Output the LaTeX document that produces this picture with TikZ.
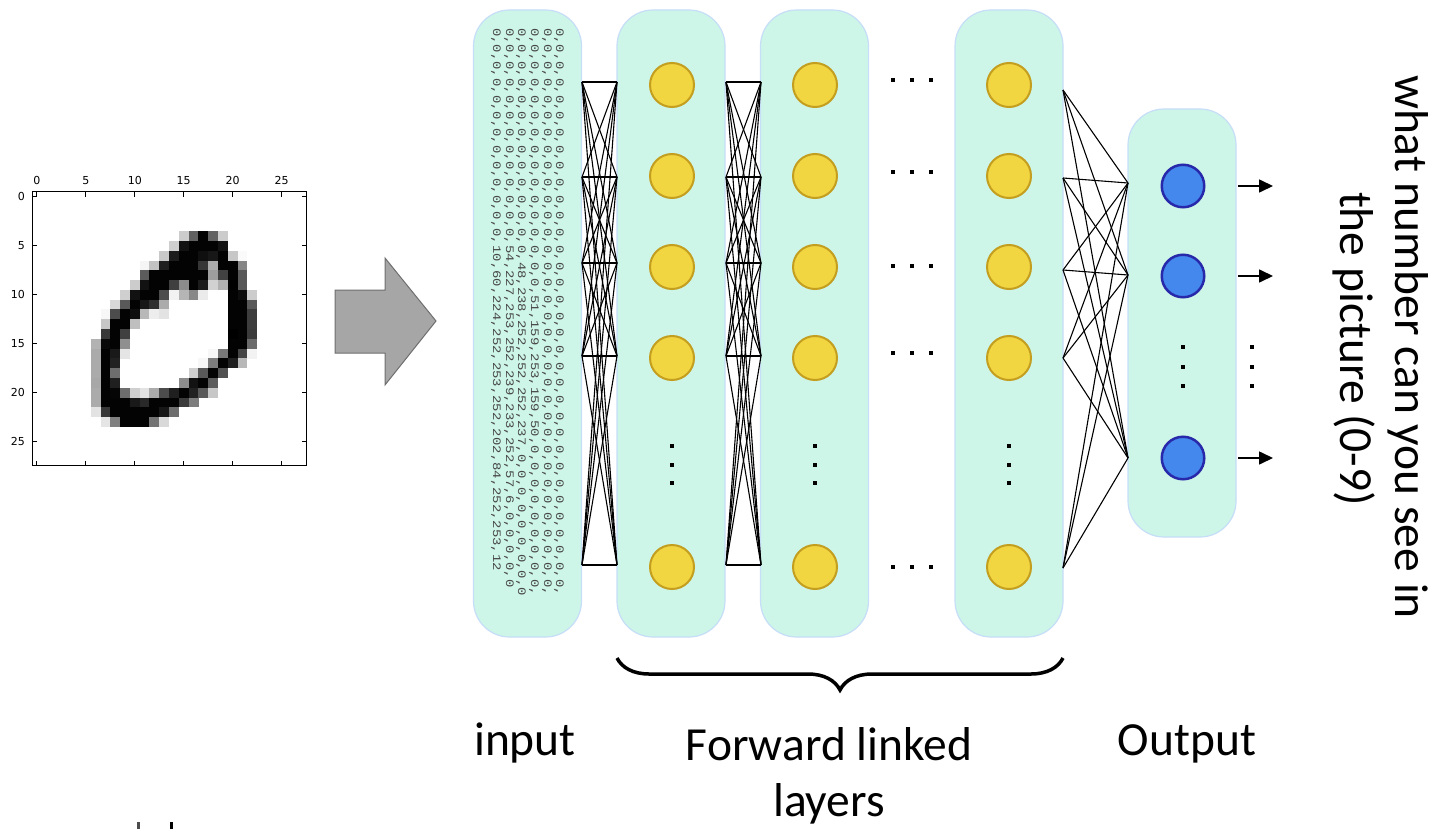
\documentclass[tikz,border=0pt]{standalone}
\usepackage{fontspec}
\setmainfont{Carlito}
\newfontfamily\tickfont{DejaVu Sans}
\newfontfamily\rawfont{Liberation Mono}
\usetikzlibrary{decorations.pathreplacing,arrows.meta}

\definecolor{layerfill}{RGB}{205,245,232}
\definecolor{layeredge}{RGB}{198,222,248}
\definecolor{hidfill}{RGB}{241,214,66}
\definecolor{hidedge}{RGB}{196,158,30}
\definecolor{outfill}{RGB}{68,136,238}
\definecolor{outedge}{RGB}{40,40,170}
\definecolor{blockgray}{RGB}{166,166,166}
\definecolor{blockedge}{RGB}{110,110,110}

% one row of the 28x28 digit: list of column/intensity pairs (0..255)
\newcommand\digitrow[2]{%
  \foreach \c/\v in {#2}{%
    \pgfmathtruncatemacro\pct{round(\v/2.55)}%
    \fill[black!\pct] ({32+\c*9.786},{192+#1*9.786}) rectangle ++(9.95,9.95);
  }%
}

\tikzset{
  layerbox/.style={rectangle, fill=layerfill, draw=layeredge, line width=1.2pt,
    rounded corners=36pt, minimum width=108pt, inner sep=0pt},
  hidden/.style={circle, fill=hidfill, draw=hidedge, line width=2pt,
    minimum size=44pt, inner sep=0pt},
  outunit/.style={circle, fill=outfill, draw=outedge, line width=2.5pt,
    minimum size=42.5pt, inner sep=0pt},
  link/.style={line width=1.1pt, black},
  dotmark/.style={rectangle, fill=black, inner sep=0pt, minimum size=4.2pt},
  biglabel/.style={font=\fontsize{47.5}{57}\selectfont, anchor=base, inner sep=0pt},
  ticklab/.style={font=\tickfont\fontsize{11}{13}\selectfont, inner sep=0pt},
  rawline/.style={font=\rawfont\fontsize{11.5}{12}\selectfont, text=black!72,
    anchor=base west, rotate=-90, xscale=1.21, inner sep=0pt},
  outarrow/.style={line width=1.6pt, -{Triangle[length=14pt,width=13pt]}},
}

\begin{document}
\begin{tikzpicture}[x=1pt, y=-1pt]
\useasboundingbox (0,0) rectangle (1431,829);

% ---------- the handwritten digit ----------
\digitrow{4}{15/51,16/159,17/253,18/159,19/50}
\digitrow{5}{14/48,15/238,16/252,17/252,18/252,19/237}
\digitrow{6}{13/54,14/227,15/253,16/252,17/239,18/233,19/252,20/57,21/6}
\digitrow{7}{11/10,12/60,13/224,14/252,15/253,16/252,17/202,18/84,19/252,20/253,21/122}
\digitrow{8}{11/163,12/252,13/252,14/252,15/253,16/252,17/252,18/96,19/189,20/253,21/167}
\digitrow{9}{10/51,11/238,12/253,13/253,14/190,15/114,16/253,17/228,18/47,19/79,20/255,21/168}
\digitrow{10}{9/48,10/238,11/252,12/252,13/179,14/12,15/75,16/121,17/21,20/253,21/243,22/50}
\digitrow{11}{8/38,9/165,10/253,11/233,12/208,13/84,20/253,21/252,22/165}
\digitrow{12}{7/7,8/178,9/252,10/240,11/71,12/19,13/28,20/253,21/252,22/195}
\digitrow{13}{7/57,8/252,9/252,10/63,20/253,21/252,22/195}
\digitrow{14}{7/198,8/253,9/190,20/255,21/253,22/196}
\digitrow{15}{6/76,7/246,8/252,9/112,20/253,21/252,22/148}
\digitrow{16}{6/85,7/252,8/230,9/25,18/7,19/135,20/253,21/186,22/12}
\digitrow{17}{6/85,7/252,8/223,17/7,18/131,19/252,20/225,21/71}
\digitrow{18}{6/85,7/252,8/145,16/48,17/165,18/252,19/173}
\digitrow{19}{6/86,7/253,8/225,15/114,16/238,17/253,18/162}
\digitrow{20}{6/85,7/252,8/249,9/146,10/48,11/29,12/85,13/178,14/225,15/253,16/223,17/167,18/56}
\digitrow{21}{6/85,7/252,8/252,9/252,10/229,11/215,12/252,13/252,14/252,15/196,16/130}
\digitrow{22}{6/28,7/199,8/252,9/252,10/253,11/252,12/252,13/233,14/145}
\digitrow{23}{7/25,8/128,9/252,10/253,11/252,12/141,13/37}

% axes frame, inward ticks and tick labels
\draw[line width=1pt] (32,192) rectangle (306,465);
\foreach \t in {0,5,10,15,20,25}{
  \pgfmathsetmacro\tp{32+(\t+0.5)*9.786}
  \pgfmathsetmacro\tq{192+(\t+0.5)*9.786}
  \draw[line width=0.8pt] (\tp,192) -- (\tp,196.5) (\tp,465) -- (\tp,460.5)
                          (32,\tq) -- (36.5,\tq) (306,\tq) -- (301.5,\tq);
  \node[ticklab, anchor=base] (tx\t) at (\tp,184.5) {\t};
  \node[ticklab, anchor=east] (ty\t) at (25,\tq) {\t};
}

% ---------- block arrow ----------
\fill[blockgray, draw=blockedge, line width=1pt]
  (335,290) -- (385,290) -- (385,258) -- (436,321) -- (385,385) -- (385,353) -- (335,353) -- cycle;

% ---------- layer columns ----------
\node[layerbox, minimum height=627pt] (inbox) at (527.5,323.5) {};
\node[layerbox, minimum height=627pt] (lay1) at (671,323.5) {};
\node[layerbox, minimum height=627pt] (lay2) at (814.5,323.5) {};
\node[layerbox, minimum height=627pt] (lay3) at (1009,323.5) {};
\node[layerbox, minimum height=428pt] (outbox) at (1182,323) {};

% raw pixel values written down the input column
\node[rawline] (raw1) at (556,28) {0,0,0,0,0,0,0,0,0,0,0,0,0,0,0,0,0,0,0,0,0,0,0,0,0,0,0,0,0,0,0,0,0,0,};
\node[rawline] (raw2) at (544,28) {0,0,0,0,0,0,0,0,0,0,0,0,0,0,0,0,0,0,0,0,0,0,0,0,0,0,0,0,0,0,0,0,0,0,};
\node[rawline] (raw3) at (531,28) {0,0,0,0,0,0,0,0,0,0,0,0,0,0,0,0,51,159,253,159,50,0,0,0,0,0,0,0,0,0,};
\node[rawline] (raw4) at (518,28) {0,0,0,0,0,0,0,0,0,0,0,0,0,0,48,238,252,252,252,237,0,0,0,0,0,0,0,0,0};
\node[rawline] (raw5) at (506,28) {0,0,0,0,0,0,0,0,0,0,0,0,0,54,227,253,252,239,233,252,57,6,0,0,0,0,0};
\node[rawline] (raw6) at (493,28) {0,0,0,0,0,0,0,0,0,0,0,0,0,10,60,224,252,253,252,202,84,252,253,12};

% ---------- hidden units ----------
\foreach \k/\yy in {1/85,2/176,3/267,4/358,5/567}{
  \node[hidden] (a\k) at (672,\yy) {};
  \node[hidden] (b\k) at (815,\yy) {};
  \node[hidden] (c\k) at (1009,\yy) {};
}
\foreach \xx/\nm in {672/a,815/b,1009/c}{
  \foreach \k/\yy in {1/446,2/465,3/483}{
    \node[dotmark] (vd\nm\k) at (\xx,\yy) {};
  }
}
\foreach \r/\yy in {1/80,2/172,3/266,4/353,5/567}{
  \foreach \k/\xx in {1/893,2/912,3/931}{
    \node[dotmark] (hd\r\k) at (\xx,\yy) {};
  }
}

% ---------- output units ----------
\node[outunit] (o1) at (1183,186) {};
\node[outunit] (o2) at (1183,276) {};
\node[outunit] (o3) at (1183,458) {};
\foreach \k/\yy in {1/347,2/367,3/386}{
  \node[dotmark] (od\k) at (1183,\yy) {};
  \node[dotmark] (rd\k) at (1252,\yy) {};
}

% ---------- dense connections ----------
\foreach \k/\yy in {1/82,2/177,3/263,4/356,5/565}{
  \coordinate (pin\k) at (582,\yy);
  \coordinate (pa\k) at (617,\yy);
  \coordinate (qa\k) at (726,\yy);
  \coordinate (pb\k) at (761,\yy);
}
\foreach \i in {1,...,5}{
  \foreach \j in {1,...,5}{
    \draw[link] (pin\i) -- (pa\j);
    \draw[link] (qa\i) -- (pb\j);
  }
}
\foreach \k/\yy in {1/90,2/178,3/270,4/358,5/568}{
  \coordinate (qc\k) at (1063,\yy);
}
\foreach \k/\yy in {1/183,2/275,3/458}{
  \coordinate (po\k) at (1128,\yy);
}
\foreach \i in {1,...,5}{
  \foreach \j in {1,2,3}{
    \draw[link] (qc\i) -- (po\j);
  }
}

% ---------- output arrows ----------
\foreach \k/\yy in {1/186,2/276,3/458}{
  \coordinate (as\k) at (1238,\yy);
  \coordinate (ae\k) at (1273,\yy);
  \draw[outarrow] (as\k) -- (ae\k);
}

% ---------- brace over the hidden layers ----------
\coordinate (brR) at (1063,658);
\coordinate (brL) at (617,658);
\draw[decorate, decoration={brace, amplitude=32pt}, line width=3.5pt] (brR) -- (brL);

% ---------- labels ----------
\node[biglabel] (lin) at (525,755) {input};
\node[biglabel] (lfw) at (829,760) {Forward linked};
\node[biglabel] (lly) at (829,816) {layers};
\node[biglabel] (lout) at (1187,755) {Output};
\node[biglabel, rotate=-90] (q1) at (1395,347) {what number can you see in};
\node[biglabel, rotate=-90] (q2) at (1340,349) {the picture (0-9)};

% two small marks at the lower edge
\fill[black!70] (137,822) rectangle (140,829);
\fill[black] (170,822) rectangle (173,829);
\end{tikzpicture}
\end{document}
